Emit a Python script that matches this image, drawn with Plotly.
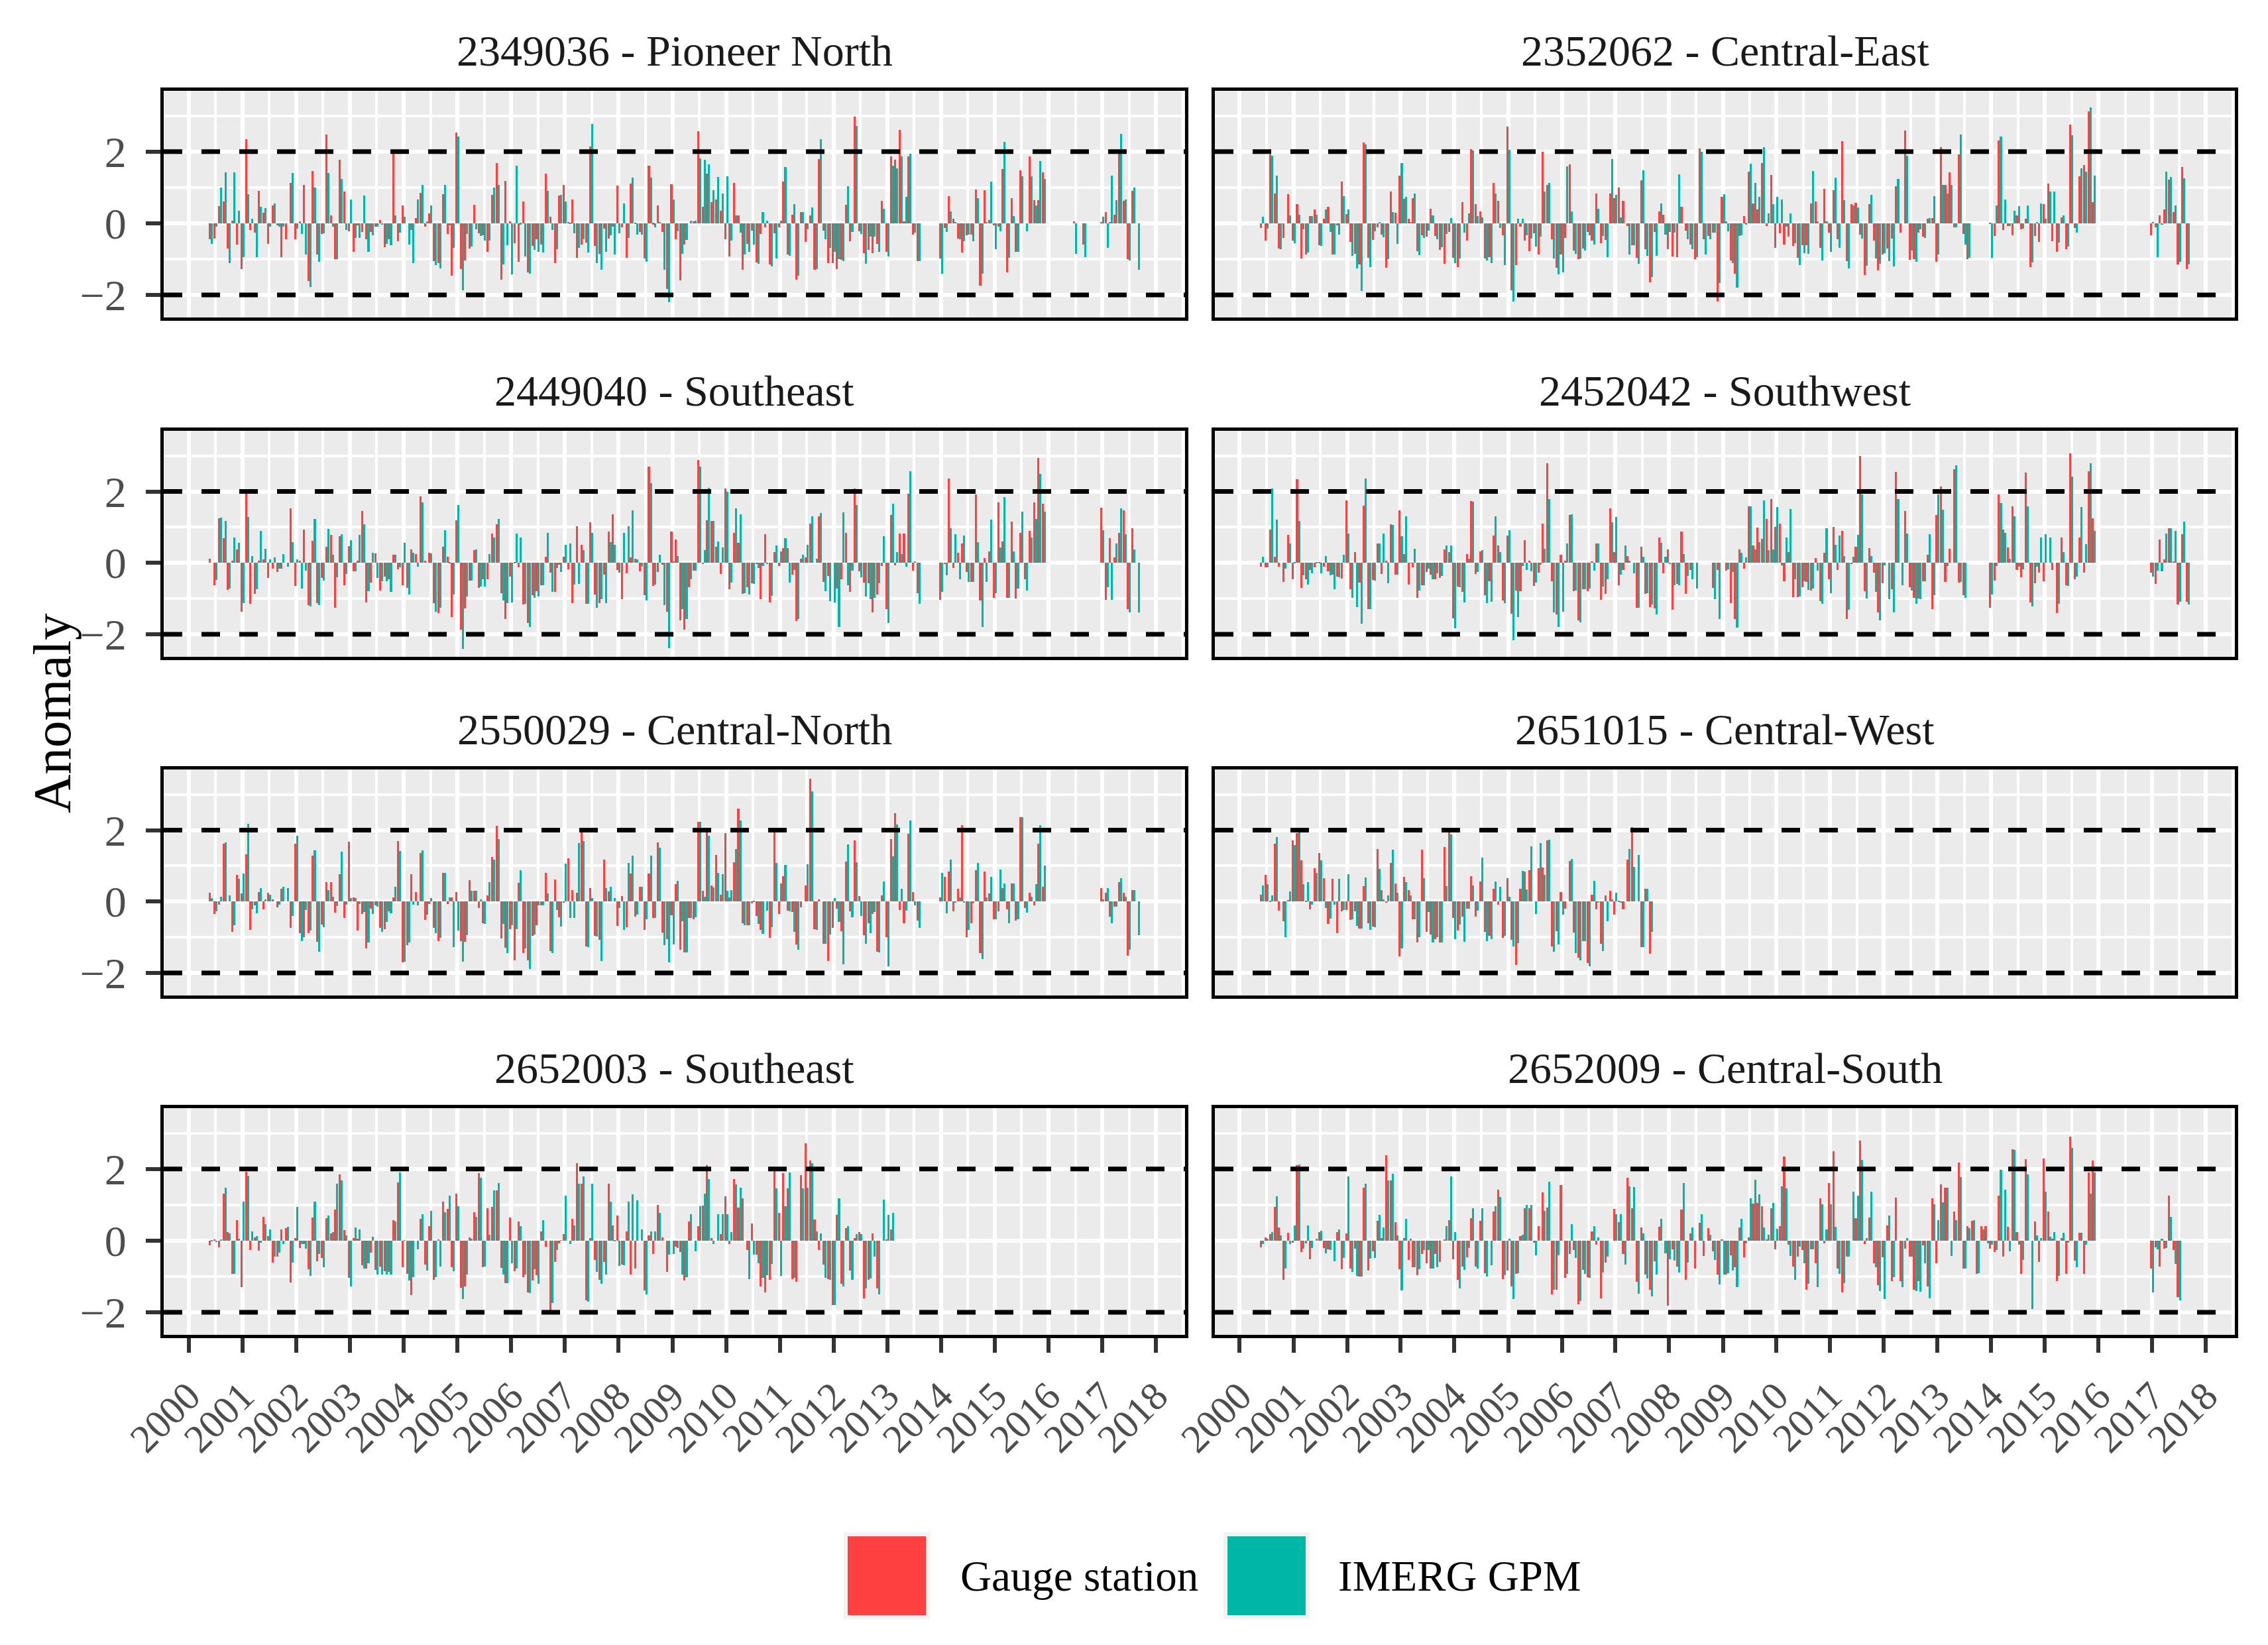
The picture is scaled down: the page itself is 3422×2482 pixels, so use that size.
import pandas as pd
import plotly.graph_objects as go

W, H = 3422, 2482
FONT = "Liberation Serif"

# ---------------- data ----------------
START_MONTH = "2000-06-01"
N_MONTHS = 208
YEARS = list(range(2000, 2019))
YEAR_LABELS = [str(y) for y in YEARS]
Y_TICKS = [-2, 0, 2]
Y_TICK_LABELS = ["\u22122", "0", "2"]
THRESHOLDS = [2, -2]
SERIES = ["Gauge station", "IMERG GPM"]
COLORS = {"Gauge station": "#FF4040", "IMERG GPM": "#00B6A6"}

TITLES = [
    "2349036 - Pioneer North", "2352062 - Central-East",
    "2449040 - Southeast", "2452042 - Southwest",
    "2550029 - Central-North", "2651015 - Central-West",
    "2652003 - Southeast", "2652009 - Central-South",
]

P1_GAUGE = [
 -0.45,-0.42,0.48,0.61,-0.70,0.07,-0.59,-1.27,2.35,-0.18,-0.27,0.90,
 0.30,-0.57,0.50,-0.05,-0.94,-0.44,1.13,-0.44,0.06,1.07,-1.61,1.46,
 -0.88,-0.30,2.47,0.22,-1.00,1.78,0.88,-0.23,-0.79,-0.06,-0.24,-0.44,
 -0.25,-0.10,0.10,-0.66,-0.45,1.96,-0.50,0.50,0.00,-0.18,0.15,0.85,
 -0.10,0.28,-1.05,-1.11,0.81,-0.30,-1.46,2.53,-1.27,-1.03,-0.70,0.52,
 -0.28,-0.34,-0.79,0.80,1.68,-1.57,1.18,0.05,-0.56,-1.07,0.61,-1.37,
 -0.63,-0.45,-0.60,1.39,0.19,-1.12,0.78,1.07,0.02,0.66,-0.97,-0.59,
 -0.53,2.15,-0.64,-0.86,-0.15,-0.42,-0.10,1.06,-0.11,-0.96,1.11,-0.02,
 -0.25,-0.99,1.61,-0.03,0.50,-0.25,-1.83,1.09,-0.45,-1.59,-0.60,0.00,
 0.05,2.58,0.46,1.39,0.59,0.66,0.35,-0.44,-0.92,1.12,0.22,-1.30,
 -0.58,-0.20,-1.10,-0.30,-0.12,-1.15,-0.28,-0.12,1.17,-0.88,0.24,-1.58,
 0.31,-0.52,0.22,-1.30,1.80,-0.21,-1.12,-1.12,-1.27,-1.02,0.52,-0.50,
 2.97,-0.22,-0.83,-0.74,-0.83,-0.57,0.63,-0.80,1.87,1.77,2.61,0.05,
 1.86,-0.31,-1.06,None,None,None,None,-0.98,-0.13,0.75,0.12,-0.43,
 -0.81,-0.34,-0.32,0.95,-1.75,0.92,0.09,-0.05,-0.09,1.52,-1.37,0.70,
 -0.79,1.48,0.00,1.87,0.65,0.64,1.42,None,None,None,None,None,
 None,0.05,None,-0.59,None,None,None,0.04,0.31,0.02,0.24,1.95,
 0.63,-1.00,0.90,0.00,
]
P1_IMERG = [
 -0.57,-0.10,1.00,1.42,-1.11,1.43,0.35,-0.94,0.81,0.13,-0.94,0.46,
 0.42,-0.10,0.56,-0.10,-0.10,0.00,1.41,-0.15,-0.30,-0.87,-1.78,1.00,
 -1.07,-0.28,1.41,-0.09,-1.00,1.24,-0.18,0.66,-0.40,-0.40,0.77,-0.79,
 -0.33,-0.10,-0.04,-0.58,-0.62,0.22,-0.27,0.18,-0.60,-1.12,0.67,1.07,
 0.05,0.50,-1.17,-1.26,1.07,-0.06,-0.68,2.42,-1.87,-0.30,-0.65,-0.17,
 -0.35,-0.48,-0.48,0.99,1.07,-1.15,-0.62,-1.42,1.60,-0.03,-0.93,-1.41,
 -0.75,-0.80,-0.81,0.90,-0.18,-0.72,0.79,0.60,-0.01,-0.28,-0.68,-0.45,
 -0.81,2.77,-1.12,-1.30,-0.80,-0.33,-0.88,-0.28,0.55,-0.40,1.27,-0.32,
 -0.31,-1.07,1.27,-0.11,0.03,-1.30,-2.20,0.66,-0.23,-0.85,-0.46,0.08,
 0.08,1.81,1.78,1.65,0.93,1.30,0.84,1.32,-0.48,0.22,-0.27,-0.87,
 -0.80,-0.60,-1.13,0.31,0.07,-1.21,-0.99,0.07,1.57,-0.90,0.53,-1.46,
 0.31,-0.17,0.44,-1.28,2.35,-0.45,-0.68,-0.80,-1.00,-1.06,1.03,-0.25,
 2.72,-0.29,-1.13,-0.37,-0.37,-0.80,0.40,-0.92,1.60,1.54,1.87,0.74,
 1.95,-0.26,-1.06,None,None,None,None,-1.41,-0.25,0.33,0.03,-0.44,
 -0.51,-0.32,-0.51,0.71,-1.41,0.03,1.17,-0.72,-0.22,2.27,-0.96,0.20,
 -0.80,1.31,-0.22,1.31,0.50,1.74,1.24,None,None,None,None,None,
 None,-0.85,None,-0.95,None,None,None,0.18,-0.68,1.33,0.65,2.50,
 0.66,-1.04,1.00,-1.30,
]
P2_GAUGE = [
 -0.13,-0.48,1.92,0.83,-0.70,-0.40,0.81,-0.48,0.54,-0.99,-0.88,0.21,
 0.39,-0.61,0.13,0.46,-0.87,-0.06,1.16,0.26,-0.52,-0.86,-1.15,2.25,
 -0.96,-0.46,-0.11,-0.31,-1.24,0.88,0.29,1.33,0.68,0.13,0.70,-0.77,
 -0.33,-0.38,0.40,-0.36,-0.74,-1.13,-0.25,-0.97,-1.22,0.59,-0.48,2.08,
 0.54,0.33,-0.99,-0.95,1.13,0.63,-0.33,2.70,-1.87,-1.17,-0.09,-0.48,
 -0.77,-0.28,-0.88,1.99,1.08,-0.44,-1.24,-0.87,-0.40,1.64,-0.76,-1.01,
 -0.71,-0.25,-0.48,0.83,-0.55,-0.47,0.83,0.71,1.00,0.62,-0.07,-0.62,
 -0.96,1.21,-0.72,-1.65,-0.24,0.33,0.24,-0.72,-0.92,-0.95,0.47,-0.20,
 -0.59,-1.00,2.09,-0.44,-0.35,-0.27,-2.18,0.73,0.05,-1.04,-1.41,-0.35,
 0.20,1.44,0.56,0.39,1.68,-0.07,1.35,-0.68,-0.28,-0.60,-0.38,-0.63,
 -0.96,-0.62,-0.62,0.55,0.60,-0.69,0.96,-0.26,0.93,-0.44,2.30,-1.06,
 0.53,0.57,-0.31,-1.44,0.53,-0.49,-1.31,-0.87,-0.70,-0.43,1.03,-0.27,
 2.59,-1.02,-1.00,-0.27,-0.38,0.13,0.14,-1.07,2.12,1.07,1.42,-0.11,
 1.92,-0.30,-1.01,None,None,None,None,-0.01,-0.36,2.31,-0.19,-0.07,
 -0.34,0.22,-0.16,0.13,-1.22,-0.35,-0.52,0.53,1.10,-0.50,-0.79,0.17,
 -0.72,2.75,-0.14,1.31,1.62,3.12,0.59,None,None,None,None,None,
 None,None,None,None,None,None,None,-0.33,-0.12,0.22,0.39,1.22,
 0.31,-1.15,1.57,-1.28,
]
P2_IMERG = [
 0.18,-0.15,1.88,1.33,-0.72,0.00,0.22,-0.55,0.24,-0.17,-0.82,0.20,
 0.24,-0.63,0.39,-0.24,-0.87,-0.31,0.76,0.38,-0.90,-1.26,-1.89,2.20,
 -1.22,-0.22,0.04,-0.39,-1.00,0.32,-0.57,1.69,0.74,0.04,0.83,-0.89,
 -0.40,-0.20,0.22,-0.45,-0.67,-0.30,0.15,-1.11,-0.98,-0.27,0.27,2.04,
 0.21,0.17,-1.04,-1.12,0.83,-0.14,-1.16,2.05,-2.19,0.13,0.13,-0.34,
 -0.43,-0.65,-0.37,0.89,1.13,-0.98,-1.43,-1.37,1.59,0.33,-0.86,-0.99,
 -0.76,-0.34,-0.59,0.41,-0.35,-0.95,1.79,0.79,0.16,0.00,-0.87,-0.61,
 -1.13,1.47,-0.91,-1.50,-0.91,0.55,-0.31,-0.24,-0.26,1.36,0.00,-0.44,
 -0.72,-0.95,1.99,-0.87,-0.45,-0.27,-1.66,0.81,-0.22,-1.11,-1.80,-0.33,
 -0.03,1.67,1.12,0.74,2.13,0.27,0.53,0.74,0.67,-0.09,0.28,-0.55,
 -1.16,-0.84,-0.86,1.46,0.05,-1.03,0.05,-0.79,1.28,-0.69,0.65,-1.26,
 0.50,0.45,-0.43,-1.18,0.79,-0.98,-1.13,-0.83,-1.05,-1.20,1.24,0.00,
 1.88,-0.76,-1.07,-0.16,-0.40,0.15,0.75,-0.88,1.07,0.83,1.08,-0.11,
 2.47,-0.59,-0.96,None,None,None,None,-0.96,0.50,2.42,0.66,-0.07,
 0.35,0.48,-0.15,0.50,-1.09,0.02,0.55,0.13,0.88,0.88,-0.54,0.22,
 -0.65,2.46,-0.27,1.54,1.44,3.23,1.33,None,None,None,None,None,
 None,None,None,None,None,None,None,0.02,-0.94,-0.04,1.44,1.29,
 0.50,-1.07,1.25,-1.14,
]
P3_GAUGE = [
 0.11,-0.63,1.25,0.70,-0.76,0.07,0.37,-1.36,1.93,-1.15,-0.86,0.07,
 0.10,-0.43,-0.16,-0.26,-0.17,0.00,1.52,-0.65,0.06,0.93,-1.19,0.61,
 -1.12,-0.43,0.46,0.78,-1.25,0.75,-0.63,0.47,-0.23,0.07,1.46,-1.10,
 -0.56,0.26,-0.77,-0.39,-0.46,0.22,-0.18,-0.63,-0.70,0.38,0.24,1.86,
 0.07,0.29,-1.13,-1.41,0.46,0.18,-1.52,1.19,-1.86,-1.27,-0.50,0.36,
 -0.70,-0.45,-0.45,0.83,1.08,-0.84,-1.57,-0.39,0.01,-0.13,-1.17,-1.69,
 -0.90,-0.79,-0.63,0.18,-0.28,-0.81,-0.05,0.17,-0.18,-1.13,1.02,0.50,
 -1.15,1.13,-0.89,-1.13,-0.33,0.87,1.37,-0.20,-1.02,-0.29,0.15,0.12,
 -0.24,-0.91,2.70,-0.64,-0.25,-0.05,-1.36,0.88,0.65,-1.60,-1.87,-0.69,
 -0.21,2.88,-0.04,1.19,1.17,0.46,-0.31,2.08,-0.74,0.85,0.57,-0.87,
 -0.69,-0.57,-0.02,-1.02,0.80,-1.10,0.31,-0.09,0.41,0.42,-0.32,-1.62,
 0.11,0.15,1.11,0.00,1.30,-0.54,-0.37,0.00,-0.72,-0.45,0.85,-0.82,
 2.08,-0.23,-0.56,-0.57,-1.39,-0.88,-0.09,-1.30,1.35,-0.06,0.83,0.83,
 1.93,-0.21,-0.84,None,None,None,None,-1.03,-0.02,2.36,-0.15,0.28,
 0.54,-0.26,-0.54,1.92,-1.05,0.13,0.32,-0.97,1.69,0.60,-0.98,1.15,
 -0.99,0.84,-0.46,0.89,1.70,2.93,1.65,None,None,None,None,None,
 None,None,None,None,None,None,None,1.55,-1.04,0.69,0.15,0.85,
 1.48,-1.30,0.98,0.00,
]
P3_IMERG = [
 0.00,-0.47,1.26,1.17,-0.72,0.71,0.56,-1.12,1.29,0.20,-0.74,0.89,
 0.39,0.10,0.16,-0.16,0.24,-0.10,0.59,0.10,-0.71,-0.22,-1.21,1.24,
 -1.19,-0.49,0.95,0.22,-0.40,0.81,-0.31,0.63,-0.23,0.79,1.08,-0.80,
 0.29,-0.42,-0.52,-0.52,-0.81,0.22,-0.13,0.57,-0.89,0.28,-0.11,1.69,
 0.00,0.26,-1.36,-1.25,0.91,0.02,-0.88,1.62,-2.40,-0.94,-0.50,0.37,
 -0.67,-0.67,0.24,0.72,1.24,-1.06,-1.13,-1.10,0.82,0.71,-1.14,-1.79,
 -0.98,-0.94,-0.63,0.84,-0.81,-0.14,-0.25,0.50,0.55,-0.61,-0.58,0.35,
 -1.15,0.85,-1.26,-1.01,-1.13,0.59,0.50,-0.28,0.85,1.02,1.48,0.10,
 -0.11,-1.05,2.23,-0.60,0.22,-1.19,-2.38,0.05,0.20,-1.30,-1.58,-0.45,
 -0.22,2.69,0.35,2.10,1.17,0.60,0.43,2.00,-0.56,1.52,1.36,-0.84,
 -0.89,-0.58,-0.14,-0.08,-0.02,-0.93,0.48,0.32,0.70,-0.55,-0.19,-1.57,
 0.22,0.50,1.31,0.12,1.39,-0.80,-1.07,-1.10,-1.80,1.41,-0.63,-0.22,
 1.62,-0.41,-0.94,-1.01,-0.97,-0.57,0.74,-1.69,1.65,0.31,0.24,-0.11,
 2.57,0.04,-1.15,None,None,None,None,-0.82,-0.34,0.98,0.80,-0.45,
 0.76,-0.54,-0.54,0.59,-1.80,-0.54,1.22,-0.84,0.43,1.84,-0.98,0.32,
 -0.72,1.43,-0.78,0.72,1.24,2.49,1.44,None,None,None,None,None,
 None,None,None,None,None,None,None,0.91,-0.69,-1.04,0.55,1.53,
 0.81,-1.39,0.38,-1.38,
]
P4_GAUGE = [
 -0.11,-0.12,0.94,0.18,-0.10,-0.54,0.78,-0.45,2.35,-0.70,-0.45,-0.20,
 -0.12,0.03,-0.10,-0.24,-0.33,-0.39,-0.44,1.76,-0.73,0.30,-0.56,1.60,
 -1.30,-0.48,0.55,-0.31,0.07,1.08,-0.33,1.48,0.24,-0.60,-0.12,-0.97,
 -0.63,-0.26,-0.33,-0.45,-0.43,0.37,0.30,-1.55,-0.67,-0.81,0.24,1.74,
 -0.31,0.33,-0.91,-0.51,0.76,0.48,-1.06,0.76,-1.43,-0.77,-0.80,0.63,
 0.07,-0.65,-0.28,1.10,2.79,-0.51,-1.45,0.23,0.07,1.34,-0.80,-1.60,
 -0.73,-0.79,0.04,0.55,-1.04,-0.86,1.52,0.30,-0.63,-0.20,0.20,0.00,
 -1.26,0.46,-0.87,-1.23,-1.28,0.72,-0.29,0.37,-1.31,-0.59,0.87,-0.86,
 -0.20,0.00,None,None,None,-0.70,-0.20,0.00,-0.22,-1.13,-1.58,0.37,
 -0.17,1.58,0.48,0.99,0.67,1.23,1.78,1.00,1.11,-0.52,0.30,-0.96,
 -0.96,-0.69,-0.54,-0.78,0.13,-1.07,0.29,-0.45,1.00,-0.19,0.89,-1.58,
 -0.02,0.46,3.00,-0.80,0.41,-0.28,-1.39,-0.57,0.00,-0.74,2.54,0.00,
 1.46,-0.68,-0.98,-1.00,-0.52,0.22,-1.30,1.34,2.15,-0.54,0.39,2.62,
 -0.56,-0.91,None,None,None,None,None,-1.26,-0.50,1.92,0.94,0.44,
 1.58,-0.20,-0.41,2.53,-1.10,-0.57,-0.27,-0.52,0.00,-0.19,-1.41,0.71,
 -0.62,3.07,-0.45,0.71,-0.28,2.57,1.25,None,None,None,None,None,
 None,None,None,None,None,None,None,-0.28,-0.58,0.66,0.09,0.98,
 0.05,-1.17,0.81,-1.08,
]
P4_IMERG = [
 0.17,-0.13,2.08,1.21,0.00,-0.17,0.54,0.03,1.17,-0.34,-0.60,-0.30,
 0.03,-0.30,0.20,-0.34,-0.73,-0.40,0.22,0.82,-0.98,-1.23,-1.71,2.37,
 -1.30,-0.50,0.55,0.83,-0.57,1.06,-0.33,0.75,1.30,-0.01,0.39,-0.77,
 -0.62,-0.17,-0.45,-0.30,-0.37,0.48,0.48,-1.84,-0.68,-1.11,0.11,1.71,
 -0.26,0.35,-1.13,-1.08,1.30,0.31,-1.13,0.92,-2.16,-1.52,-0.08,-0.19,
 -0.24,-0.56,-0.05,0.40,1.79,-1.39,-1.79,-1.36,0.55,1.37,-0.78,-1.67,
 -0.73,-0.71,-0.22,0.55,-0.67,-0.45,1.13,1.28,-0.33,0.48,0.07,-0.29,
 -1.26,0.18,-0.85,-1.17,-1.45,0.56,0.17,-0.02,-0.63,-0.63,0.25,-0.37,
 -0.45,-0.71,None,None,None,-1.02,-1.58,0.00,-0.18,-0.25,-1.82,0.28,
 0.15,1.58,0.37,0.59,1.75,0.35,0.37,1.57,-0.06,0.72,1.51,-0.45,
 -0.94,-0.52,-0.76,-0.71,-0.22,-1.15,0.98,-0.84,0.50,0.76,0.19,-1.32,
 0.17,0.79,1.91,-1.00,0.20,-0.81,-1.60,-0.07,-1.02,-1.38,1.79,-0.63,
 0.83,-0.78,-1.15,-1.02,-0.52,0.80,-0.91,1.92,1.50,-0.08,0.00,2.74,
 -0.54,-0.98,None,None,None,None,None,-0.88,-0.09,1.67,0.85,0.12,
 1.30,-0.11,-0.18,1.58,-1.21,-0.10,0.71,0.81,0.71,0.00,-1.15,0.31,
 -0.65,2.42,-0.39,1.56,0.53,2.79,0.90,None,None,None,None,None,
 None,None,None,None,None,None,None,-0.39,-0.22,-0.24,0.82,0.98,
 0.90,-1.08,1.15,-1.17,
]
P5_GAUGE = [
 0.24,-0.35,-0.08,1.63,0.00,-0.85,0.74,0.22,1.33,-0.80,-0.10,0.27,
 -0.22,0.24,0.07,-0.16,0.36,0.00,-0.74,1.63,-0.89,-1.00,-0.88,1.28,
 -1.13,-0.65,0.54,0.54,-0.31,0.76,-0.45,1.67,0.12,-0.81,-0.35,-1.31,
 -0.19,-0.11,-0.73,-0.78,-0.27,0.12,1.69,-1.70,-1.22,0.76,0.26,1.37,
 -0.52,-0.07,-0.74,-1.11,0.81,-0.07,0.12,0.27,-1.11,-1.13,0.60,0.30,
 -0.18,-0.60,0.17,1.25,2.13,-1.04,-1.30,-0.78,-1.64,0.53,-1.45,-1.64,
 -0.96,-0.67,-0.10,0.81,-1.39,0.61,-0.44,-0.03,1.21,0.33,0.24,2.00,
 -1.25,0.37,-0.95,-1.07,1.18,0.29,0.00,-0.69,0.16,-0.71,0.78,-0.43,
 0.41,-0.80,0.79,-0.45,1.66,-0.87,-1.06,-0.38,0.49,-1.35,-1.43,-0.45,
 -0.50,2.23,0.30,1.94,0.45,1.31,0.20,1.92,0.12,1.11,2.60,-0.60,
 -0.66,-0.05,-0.40,-0.80,0.00,-1.02,2.00,-0.35,0.72,-0.26,-0.30,-1.20,
 -0.16,0.45,3.44,-0.78,0.07,-1.18,-1.66,-0.73,-0.20,-0.83,1.12,-0.28,
 1.71,0.15,-0.94,-0.61,-0.35,-1.40,0.17,-1.00,1.75,2.48,-0.24,-0.61,
 1.90,0.27,-0.54,None,None,None,None,0.11,0.70,0.85,-0.27,0.35,
 2.14,-1.00,-0.61,0.87,-1.44,0.85,0.23,-0.50,-0.28,0.37,-0.22,0.51,
 -0.54,2.36,-0.18,0.24,-0.11,1.62,0.42,None,None,None,None,None,
 None,None,None,None,None,None,None,0.38,0.24,-0.42,-0.15,0.54,
 0.24,-1.52,0.33,0.00,
]
P5_IMERG = [
 0.09,-0.28,0.13,1.65,0.18,-0.67,0.63,0.78,2.17,-0.22,-0.32,0.38,
 0.07,0.20,0.00,-0.08,0.41,0.37,-0.41,1.85,-1.11,-0.23,-0.81,1.43,
 -1.41,-0.72,0.33,0.13,-0.13,1.39,-0.09,0.09,0.10,-0.07,-0.29,-1.14,
 -0.35,-0.14,-0.84,-0.57,-0.33,0.42,1.42,-1.69,-1.15,-0.09,-0.10,1.44,
 -0.37,0.09,-0.89,-1.02,0.81,0.11,-1.27,-0.81,-1.69,-0.94,0.30,0.30,
 0.06,-0.62,0.55,1.18,1.75,-0.62,-1.45,-0.66,-0.78,0.88,-1.32,-1.88,
 -0.93,-0.10,-0.10,0.22,-1.45,-0.24,-0.70,1.07,-0.46,-0.46,1.64,1.69,
 -1.27,0.09,-0.97,-1.66,0.37,0.41,0.10,-0.18,-0.80,1.09,1.29,-0.37,
 0.41,-0.50,1.28,-0.45,1.51,-1.21,-1.70,-1.20,0.59,-0.56,-1.42,-0.45,
 -0.44,2.24,0.13,1.84,0.39,0.81,0.76,0.30,0.33,1.48,2.28,-0.66,
 -0.66,0.02,-0.63,-0.90,-0.26,-0.72,1.09,0.50,1.02,-0.27,-0.84,-1.34,
 0.00,1.05,3.09,-0.80,0.00,-1.19,-0.92,0.09,-0.57,-1.75,1.60,-0.44,
 1.11,-0.40,-1.19,-0.88,-0.30,-1.42,0.57,-1.82,1.26,2.16,0.36,-0.26,
 2.28,-0.10,-0.73,None,None,None,None,0.81,-0.33,1.17,-0.03,0.11,
 -0.04,-0.79,-0.05,1.09,-1.60,0.11,0.69,-0.50,0.90,0.51,-0.60,0.50,
 -0.50,2.36,-0.31,0.13,0.49,2.15,1.01,None,None,None,None,None,
 None,None,None,None,None,None,None,0.07,0.37,-0.60,-0.15,0.65,
 0.14,-1.35,0.32,-0.94,
]
P6_GAUGE = [
 0.19,0.74,0.03,1.63,-0.26,-0.56,0.04,1.72,1.91,1.16,0.03,-0.22,
 0.93,1.37,0.65,-0.63,0.63,-0.89,-0.27,-0.23,-0.51,-0.27,-0.75,0.43,
 -0.61,-0.70,1.48,0.33,-0.03,1.09,0.51,-1.54,0.69,0.33,-0.50,-1.15,
 1.46,-0.85,-0.93,-1.06,-1.15,1.52,1.94,-0.46,-0.81,-0.43,-0.20,0.72,
 -0.43,0.57,-0.85,-0.96,0.35,-0.09,-1.02,0.65,-1.07,-1.77,0.36,0.85,
 0.88,0.00,0.93,0.96,1.72,-1.26,-0.83,0.26,-0.20,1.13,-0.87,-1.57,
 -1.11,-1.72,0.20,-0.22,-1.19,0.18,0.31,-0.37,0.02,-0.22,1.17,2.08,
 0.00,-1.28,0.35,-1.46,
]
P6_IMERG = [
 0.46,0.48,0.17,1.81,0.00,-1.00,0.29,1.59,1.93,0.48,0.55,-0.09,
 0.80,1.15,-0.18,-0.48,-0.09,0.63,-0.23,0.77,-0.50,-0.69,-0.75,0.68,
 -0.80,-0.72,0.92,0.07,0.18,1.46,0.24,-1.31,0.55,0.17,-0.50,-1.00,
 0.66,-0.29,-1.15,-1.00,-1.15,0.44,1.89,-1.06,-0.64,-1.13,-0.20,0.46,
 -0.26,1.24,-1.11,-1.06,0.57,0.41,-0.96,0.13,-1.25,-1.16,0.86,0.34,
 1.55,-0.35,1.64,0.74,1.73,-1.40,-1.20,-0.37,0.00,1.19,-1.45,-1.64,
 -1.11,-1.81,0.59,-0.03,-1.39,-0.56,0.07,0.24,-0.02,0.00,1.48,0.98,
 1.30,-1.28,0.35,-0.85,
]
P7_GAUGE = [
 -0.13,0.02,-0.18,1.31,0.24,-0.93,0.57,-1.29,1.93,-0.26,0.09,-0.28,
 0.67,0.13,-0.61,-0.44,0.31,0.35,-1.17,0.07,-0.20,-0.09,-0.80,0.65,
 -0.57,-0.48,0.63,0.20,0.87,1.85,0.30,-1.04,0.07,0.06,-0.69,-0.78,
 -0.33,-0.81,-0.73,-0.85,-0.88,0.57,1.63,-0.74,-0.93,-1.52,0.00,0.61,
 -0.66,0.40,-1.10,0.03,1.09,0.88,-0.74,1.31,-1.31,-1.28,0.09,0.80,
 1.89,-0.74,0.90,0.94,1.41,-0.76,-1.18,0.64,-0.85,0.54,-1.02,-1.44,
 -1.11,-0.96,0.26,-0.17,-1.95,-0.60,-0.07,0.18,0.00,0.60,2.17,1.59,
 -1.66,0.07,-0.54,-1.09,-0.59,1.59,0.43,0.70,-0.66,0.26,-0.94,-0.78,
 0.00,-1.39,0.14,-0.37,1.00,0.09,-0.88,0.00,-0.17,-0.32,-1.11,0.53,
 0.00,0.40,0.98,2.10,0.07,0.00,0.18,1.24,-0.09,1.72,0.92,1.18,
 -0.26,0.48,-0.39,-1.28,-1.44,-1.09,2.02,0.78,1.89,1.46,-1.07,-1.15,
 1.83,2.72,2.23,0.59,-0.27,-0.66,-1.07,-1.79,0.72,-1.20,0.35,-0.83,
 0.07,0.24,-1.61,-1.09,0.20,-1.33,0.00,0.02,0.31,
]
P7_IMERG = [
 -0.02,-0.04,0.02,1.48,0.20,-0.93,0.06,1.09,1.81,0.26,0.12,-0.06,
 0.46,0.31,-0.45,-0.33,-0.09,0.39,-0.61,0.94,-0.10,-0.22,-0.98,1.09,
 -0.37,-0.74,0.71,0.24,1.59,1.68,0.15,-1.28,0.37,0.31,-0.78,-0.63,
 0.11,-0.94,-0.94,-0.94,-0.94,0.53,1.90,0.01,-1.11,-1.02,-0.25,0.74,
 -0.83,0.83,-1.02,-0.72,0.79,1.25,-0.86,0.97,-1.63,-0.95,0.05,0.67,
 1.76,-0.73,0.17,1.41,1.60,-0.94,-1.18,-0.63,-0.78,0.41,-0.94,-1.47,
 -0.79,-1.21,0.57,0.00,-1.74,-0.26,0.01,1.25,-0.10,0.42,1.59,1.79,
 -1.70,1.59,-0.87,-1.20,-0.95,1.09,-0.01,-0.70,-0.68,1.09,1.29,1.13,
 0.31,-1.50,0.26,0.26,0.77,0.00,-0.39,-0.37,-0.20,-0.94,-1.02,0.74,
 -0.30,0.96,1.31,1.72,-0.09,0.74,0.74,0.74,0.24,1.57,1.48,0.00,
 -1.07,-0.39,-0.63,-1.04,-0.96,-0.65,1.46,-0.98,0.96,1.91,-1.04,0.00,
 1.46,1.48,2.17,0.26,0.20,-1.04,-1.09,-1.79,1.19,-1.28,0.41,-1.09,
 0.18,0.18,-1.33,-1.05,-0.44,-1.51,1.15,0.72,0.77,
]
P8_GAUGE = [
 -0.18,0.10,0.18,0.94,0.36,-1.09,0.22,-0.05,2.10,-0.31,-0.07,-0.52,
 0.00,0.24,-0.20,-0.24,0.00,0.24,-0.79,0.20,-0.78,-0.22,-1.00,1.48,
 -0.84,-0.29,0.55,0.07,2.38,1.69,0.51,-0.80,0.07,-0.53,-0.75,-0.97,
 -0.37,-0.64,-0.77,-0.38,-0.59,0.03,0.57,-0.52,-1.09,-0.72,-0.46,0.63,
 -0.72,0.55,-0.90,0.00,0.81,1.42,-1.08,-0.83,-1.28,-0.93,0.12,0.90,
 0.90,-0.06,0.41,1.35,0.93,-1.50,-1.37,1.56,-1.03,-0.38,-0.26,-1.78,
 -0.82,-1.02,0.26,-0.11,-1.61,-0.61,0.00,0.89,0.52,-0.37,1.75,0.90,
 -1.15,0.36,-0.94,-1.37,-0.58,0.39,0.00,-1.81,-0.24,-0.73,0.86,-1.10,
 0.20,-0.78,0.50,-0.42,0.35,-0.29,-0.94,0.02,-0.94,-0.40,-0.75,0.37,
 -0.46,0.09,1.04,1.06,0.96,0.02,0.90,-0.25,0.40,2.35,-0.11,-0.72,
 -0.45,-0.26,-1.37,-0.24,-0.63,1.19,-0.08,1.60,2.49,-0.78,-1.44,-0.45,
 0.00,0.63,2.80,-0.09,0.64,-0.63,-1.24,-0.46,0.43,-1.13,1.21,-1.13,
 -0.22,-0.45,-1.37,-1.13,-0.14,-1.28,1.18,-0.63,1.57,1.47,0.00,0.81,
 2.18,-0.78,0.40,0.55,-0.92,0.40,0.40,-0.22,-0.32,1.26,-0.44,0.38,
 2.56,0.23,-0.92,2.28,0.00,0.53,-0.60,2.29,0.81,0.06,-1.13,0.07,
 -0.92,2.91,-0.56,0.22,-0.92,1.91,2.24,None,None,None,None,None,
 None,None,None,None,None,None,None,-0.77,-0.18,-0.72,-0.22,1.26,
 -0.27,-1.57,
]
P8_IMERG = [
 -0.10,0.05,0.24,1.24,0.15,-0.78,-0.09,0.42,2.12,-0.23,0.42,-0.20,
 0.05,0.28,-0.35,-0.27,-0.57,0.31,-0.48,1.79,-0.87,-0.99,-1.00,1.59,
 -0.50,-0.48,0.72,0.37,1.69,1.86,0.14,-1.39,0.61,0.05,-0.75,-0.79,
 -0.26,-0.26,-0.77,-0.75,0.00,0.41,1.79,0.24,-1.33,-0.81,-0.20,0.90,
 -0.78,0.90,-1.00,-0.68,0.96,1.22,-0.96,0.05,-1.63,-0.90,0.17,0.99,
 1.00,-0.41,0.00,0.83,1.65,-1.37,-0.41,0.00,-0.93,0.46,-0.48,-1.69,
 -0.92,-1.04,0.41,0.09,-0.89,-0.44,0.00,0.74,0.74,-0.67,1.52,1.49,
 -1.48,0.21,-1.06,-1.55,-0.94,0.61,-0.35,-0.52,-0.55,-0.89,1.60,-0.62,
 0.37,0.00,0.74,0.00,0.16,-0.54,-1.23,-0.94,-0.91,-0.84,-1.29,0.60,
 -0.07,1.19,1.71,1.29,0.37,0.16,1.06,0.33,1.52,1.46,-0.42,-1.10,
 -0.17,-0.64,-1.21,-0.25,-1.29,1.01,0.31,1.01,0.39,-0.92,-1.19,-0.45,
 1.36,1.25,2.25,0.07,1.36,-0.75,-1.41,-1.63,0.70,-1.02,0.00,-1.29,
 0.07,-0.45,-1.41,-1.43,-0.64,-1.61,1.02,0.57,1.07,1.47,-0.43,0.57,
 1.78,-0.78,0.35,0.57,-0.90,0.31,-0.07,-0.11,-0.27,1.98,1.42,-0.30,
 2.53,-0.11,-0.54,1.85,-1.91,0.15,0.07,1.37,0.11,0.23,-0.99,0.22,
 -0.06,2.59,-0.74,0.22,-0.11,1.31,1.91,None,None,None,None,None,
 None,None,None,None,None,None,None,-1.45,-0.24,0.05,-0.20,0.66,
 -0.65,-1.66,
]

PANELS = [
    (TITLES[0], P1_GAUGE, P1_IMERG), (TITLES[1], P2_GAUGE, P2_IMERG),
    (TITLES[2], P3_GAUGE, P3_IMERG), (TITLES[3], P4_GAUGE, P4_IMERG),
    (TITLES[4], P5_GAUGE, P5_IMERG), (TITLES[5], P6_GAUGE, P6_IMERG),
    (TITLES[6], P7_GAUGE, P7_IMERG), (TITLES[7], P8_GAUGE, P8_IMERG),
]

# ---------------- geometry / style ----------------
DATES = pd.date_range(START_MONTH, periods=N_MONTHS, freq="MS").strftime("%Y-%m-%d").tolist()
YEAR_TICKS = [f"{y}-01-01" for y in YEARS]
HALF_TICKS = [f"{y}-07-02" for y in range(1999, 2019)]
X_RANGE = ["1999-07-16", "2018-07-17"]
Y_RANGE = [-2.63, 3.70]
MONTH_MS = 30.44 * 86400000
BAR_W = 0.45 * MONTH_MS

COL_X = [(247, 1788), (1833, 3372)]
ROW_Y = [(137, 479), (650, 991), (1161, 1502), (1672, 2014)]

for t, g, m in PANELS:
    if len(g) != len(m) or len(g) > N_MONTHS:
        raise ValueError(f"length mismatch in {t}: {len(g)} {len(m)}")

fig = go.Figure()
shapes = []
annotations = []
layout_axes = {}

for i, (title, gauge, imerg) in enumerate(PANELS):
    k = i + 1
    sfx = "" if k == 1 else str(k)
    col, row = i % 2, i // 2
    xa, xb = COL_X[col]
    yt, yb = ROW_Y[row]

    for name, vals, off in ((SERIES[0], gauge, -BAR_W), (SERIES[1], imerg, 0)):
        fig.add_trace(go.Bar(
            x=DATES[:len(vals)], y=vals, name=name,
            marker=dict(color=COLORS[name], line=dict(width=0)),
            width=BAR_W, offset=off,
            xaxis="x" + sfx, yaxis="y" + sfx, showlegend=False,
        ))

    xax = dict(
        domain=[xa / W, xb / W], anchor="y" + sfx, type="date", range=X_RANGE,
        tickmode="array", tickvals=YEAR_TICKS, ticktext=YEAR_LABELS,
        showgrid=True, gridcolor="white", gridwidth=6,
        minor=dict(tickmode="array", tickvals=HALF_TICKS, showgrid=True,
                   gridcolor="white", gridwidth=4),
        showline=True, mirror=True, linecolor="black", linewidth=5,
        zeroline=False, fixedrange=True, automargin=False,
    )
    if row == 3:
        xax.update(ticks="outside", ticklen=22, tickwidth=6, tickcolor="#333333",
                   showticklabels=True, tickangle=-45, ticklabelstandoff=6,
                   tickfont=dict(family=FONT, size=60, color="#4D4D4D"))
    else:
        xax.update(ticks="", showticklabels=False)

    yax = dict(
        domain=[1 - yb / H, 1 - yt / H], anchor="x" + sfx, range=Y_RANGE,
        tickmode="array", tickvals=Y_TICKS, ticktext=Y_TICK_LABELS,
        showgrid=True, gridcolor="white", gridwidth=6,
        minor=dict(tickmode="array", tickvals=[-1, 1, 3], showgrid=True,
                   gridcolor="white", gridwidth=4),
        showline=True, mirror=True, linecolor="black", linewidth=5,
        zeroline=False, fixedrange=True, automargin=False,
    )
    if col == 0:
        yax.update(ticks="outside", ticklen=22, tickwidth=6, tickcolor="#333333",
                   showticklabels=True, ticklabelstandoff=16,
                   tickfont=dict(family=FONT, size=66, color="#4D4D4D"))
    else:
        yax.update(ticks="", showticklabels=False)

    layout_axes["xaxis" + sfx] = xax
    layout_axes["yaxis" + sfx] = yax

    for t in THRESHOLDS:
        shapes.append(dict(type="line", xref=f"x{sfx} domain", yref="y" + sfx,
                           x0=0, x1=1, y0=t, y1=t, layer="above",
                           line=dict(color="black", width=7, dash="28px,29px")))

    annotations.append(dict(text=title, xref="paper", yref="paper",
                            x=(xa + xb) / 2 / W, y=1 - (yt - 61) / H,
                            xanchor="center", yanchor="middle", showarrow=False,
                            font=dict(family=FONT, size=66, color="#1A1A1A")))

# y axis title
annotations.append(dict(text="Anomaly", xref="paper", yref="paper",
                        x=79 / W, y=1 - 1076 / H, textangle=-90,
                        xanchor="center", yanchor="middle", showarrow=False,
                        font=dict(family=FONT, size=81, color="black")))

# legend (drawn manually to match large square keys)
LEGEND_KEYS = [(SERIES[0], 1276, 1400, 1447), (SERIES[1], 1849, 1973, 2017)]
for name, kx0, kx1, tx in LEGEND_KEYS:
    shapes.append(dict(type="rect", xref="paper", yref="paper",
                       x0=kx0 / W, x1=kx1 / W, y0=1 - 2440 / H, y1=1 - 2315 / H,
                       fillcolor=COLORS[name], line=dict(color="#F2F2F2", width=6)))
    annotations.append(dict(text=name, xref="paper", yref="paper",
                            x=tx / W, y=1 - 2378 / H, xanchor="left", yanchor="middle",
                            showarrow=False,
                            font=dict(family=FONT, size=65, color="black")))

fig.update_layout(
    width=W, height=H, autosize=False,
    margin=dict(l=0, r=0, t=0, b=0, pad=0, autoexpand=False),
    paper_bgcolor="white", plot_bgcolor="#EBEBEB",
    barmode="overlay", bargap=0,
    showlegend=False,
    shapes=shapes, annotations=annotations,
    font=dict(family=FONT),
    **layout_axes,
)

fig.write_html("out.html", include_plotlyjs=True, full_html=True,
               config={"displayModeBar": False},
               post_script="document.body.style.margin='0px';document.body.style.overflow='hidden';")
